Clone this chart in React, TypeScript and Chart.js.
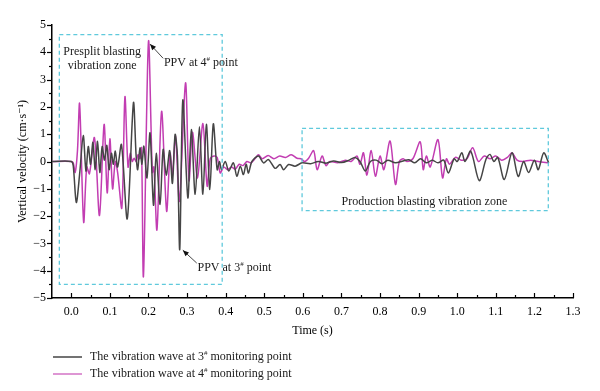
import React, { useEffect, useRef } from "react";
import { Chart, registerables } from "chart.js";

Chart.register(...registerables);

// ---- Data ----
const timeP3 = [
  -0.05, 0, 0.005, 0.013, 0.022, 0.031, 0.038, 0.044, 0.05, 0.056, 0.062, 0.068, 0.074, 0.08, 0.086, 0.092,
  0.098, 0.104, 0.109, 0.114, 0.12, 0.13, 0.145, 0.161, 0.168, 0.172, 0.178, 0.183, 0.188, 0.196, 0.204,
  0.213, 0.22, 0.23, 0.238, 0.246, 0.255, 0.262, 0.269, 0.275, 0.281, 0.289, 0.302, 0.311, 0.321, 0.332,
  0.341, 0.35, 0.359, 0.368, 0.378, 0.384, 0.389, 0.399, 0.408, 0.42, 0.429, 0.438, 0.446, 0.453, 0.459,
  0.468, 0.485, 0.498, 0.511, 0.528, 0.541, 0.55, 0.563, 0.58, 0.598, 0.62, 0.64, 0.66, 0.68, 0.7, 0.72,
  0.735, 0.748, 0.762, 0.775, 0.79, 0.805, 0.82, 0.84, 0.86, 0.875, 0.89, 0.905, 0.92, 0.935, 0.95, 0.965,
  0.977, 0.992, 1.0, 1.012, 1.02, 1.035, 1.057, 1.075, 1.085, 1.095, 1.105, 1.122, 1.142, 1.158, 1.172,
  1.185, 1.2, 1.21, 1.224, 1.237,
];
const velP3 = [
  0, 0, -0.15, -1.5, -0.4, 0.95, -0.35, 0.55, -0.1, 0.7, -0.3, 0.74, -0.4, 0.55, 0.05, 0.59,
  -0.3, 0.3, -0.1, 0.38, -0.2, 0.62, -2.1, 2.15, 0.2, -0.3, 0.5, -0.1, 0.56, -0.6, 1.05,
  -1.6, 0.3, -1.57, 0.44, -0.5, 0.4, -0.8, 0.99, 0.2, -3.22, 2.25, -1.33, 1.17, -1.2, 1.27,
  -1.2, 1.36, -1.03, 1.38, -0.3, 0.0, -0.29, 0.0, -0.35, -0.05, -0.54, -0.17, -0.48, -0.1, -0.42,
  0.0, 0.2, -0.05, 0.07, -0.25, -0.11, -0.3, -0.11, -0.17, -0.05, -0.08, 0.0, -0.06, 0.02, -0.04, 0.05,
  0.15, 0.0, -0.35, 0.0, 0.05, -0.08, 0.05, -0.05, 0.02, 0.06, -0.05, 0.1, -0.05, 0.05, -0.05, 0.05,
  -0.42, 0.1, 0.0, 0.32, 0.0, 0.38, -0.7, 0.1, 0.26, 0.0, 0.15, -0.66, 0.32, -0.55, 0.0,
  -0.4, 0.05, -0.3, 0.32, -0.05,
];

const timeP4 = [
  -0.05, 0, 0.005, 0.01, 0.016, 0.0215, 0.032, 0.04, 0.047, 0.06, 0.073, 0.085, 0.093, 0.1, 0.107, 0.114,
  0.12, 0.131, 0.139, 0.147, 0.153, 0.158, 0.163, 0.168, 0.173, 0.178, 0.182, 0.187, 0.2, 0.21, 0.214,
  0.222, 0.234, 0.247, 0.256, 0.262, 0.27, 0.28, 0.296, 0.305, 0.314, 0.327, 0.341, 0.352, 0.36, 0.37,
  0.378, 0.386, 0.395, 0.405, 0.415, 0.425, 0.435, 0.445, 0.455, 0.465, 0.477, 0.485, 0.495, 0.51, 0.525,
  0.54, 0.555, 0.57, 0.585, 0.595, 0.605, 0.615, 0.628, 0.637, 0.65, 0.66, 0.67, 0.69, 0.71, 0.725, 0.74,
  0.748, 0.757, 0.766, 0.777, 0.788, 0.8, 0.81, 0.826, 0.84, 0.85, 0.86, 0.87, 0.885, 0.904, 0.912, 0.92,
  0.93, 0.95, 0.962, 0.972, 0.98, 0.995, 1.01, 1.025, 1.04, 1.055, 1.07, 1.085, 1.1, 1.115, 1.13, 1.142,
  1.155, 1.17, 1.19, 1.21, 1.237,
];
const velP4 = [
  0, 0, -0.05, -0.4, 0.4, 2.12, -2.22, -0.2, -0.45, 0.87, -1.98, 1.36, -1.15, 0.83, -1.0, 0.0,
  -0.4, -1.7, 2.37, -0.2, 0.3, 0.0, 0.12, 0.0, 0.25, 0.1, 0.5, -4.2, 4.4, -0.4, -0.2,
  -2.5, 1.84, -1.82, 0.3, -0.5, 0.93, -1.45, 2.88, -0.7, 1.07, -0.6, 1.39, -0.9, 0.1, 0.2,
  0.15, -0.42, -0.2, -0.3, -0.2, -0.28, -0.1, -0.15, 0.0, -0.05, 0.12, 0.25, 0.1, 0.22, 0.1,
  0.2, 0.15, 0.25, 0.12, 0.1, 0.0, 0.12, 0.4, -0.3, 0.2, -0.15, 0.0, -0.05, 0.05, 0.0, 0.2,
  -0.1, 0.32, -0.5, 0.4, -0.54, 0.2, -0.3, 0.75, -0.84, 0.0, 0.1, 0.0, 0.1, 0.72, -0.3, 0.2,
  -0.2, 0.8, -0.6, 0.1, -0.1, 0.15, 0.05, 0.1, 0.5, 0.0, 0.2, 0.1, 0.2, 0.05, 0.15, 0.32,
  0.05, 0.0, 0.05, 0.0, -0.05,
];

const xTickValues = [0, 0.1, 0.2, 0.3, 0.4, 0.5, 0.6, 0.7, 0.8, 0.9, 1.0, 1.1, 1.2, 1.3];
const yTickValues = [-5, -4, -3, -2, -1, 0, 1, 2, 3, 4, 5];

const seriesLabels = ["The vibration wave at 3# monitoring point", "The vibration wave at 4# monitoring point"];
const xTitle = "Time (s)";
const yTitle = "Vertical velocity (cm\u00B7s\u207B\u00B9)";

const SERIF = "'Liberation Serif', 'Times New Roman', 'DejaVu Serif', serif";
const COLOR_P3 = "#454545";
const COLOR_P4 = "#c23db2";
const BOX_COLOR = "#5fc9dc";

// Draw a text where "#" is rendered as a small superscript
function drawRich(ctx: CanvasRenderingContext2D, text: string, x: number, y: number, size: number, align: "left" | "center" = "left") {
  const parts: { t: string; sup: boolean }[] = [];
  let buf = "";
  for (const ch of text) {
    if (ch === "#") {
      if (buf) parts.push({ t: buf, sup: false });
      buf = "";
      parts.push({ t: "#", sup: true });
    } else buf += ch;
  }
  if (buf) parts.push({ t: buf, sup: false });
  const supSize = Math.round(size * 0.6);
  let total = 0;
  for (const p of parts) {
    ctx.font = `${p.sup ? supSize : size}px ${SERIF}`;
    total += ctx.measureText(p.t).width;
  }
  let cx = align === "center" ? x - total / 2 : x;
  ctx.textAlign = "left";
  ctx.textBaseline = "middle";
  for (const p of parts) {
    ctx.font = `${p.sup ? supSize : size}px ${SERIF}`;
    ctx.fillText(p.t, cx, p.sup ? y - size * 0.32 : y);
    cx += ctx.measureText(p.t).width;
  }
}

function arrow(ctx: CanvasRenderingContext2D, x1: number, y1: number, x2: number, y2: number) {
  ctx.save();
  ctx.strokeStyle = "#333";
  ctx.fillStyle = "#111";
  ctx.lineWidth = 0.9;
  ctx.beginPath();
  ctx.moveTo(x1, y1);
  ctx.lineTo(x2, y2);
  ctx.stroke();
  const ang = Math.atan2(y2 - y1, x2 - x1);
  const L = 6, W = 2.6;
  ctx.beginPath();
  ctx.moveTo(x2, y2);
  ctx.lineTo(x2 - L * Math.cos(ang) + W * Math.sin(ang), y2 - L * Math.sin(ang) - W * Math.cos(ang));
  ctx.lineTo(x2 - L * Math.cos(ang) - W * Math.sin(ang), y2 - L * Math.sin(ang) + W * Math.cos(ang));
  ctx.closePath();
  ctx.fill();
  ctx.restore();
}

const decorPlugin = {
  id: "decor",
  afterDraw(chart: any) {
    const { ctx, chartArea } = chart;
    const xs = chart.scales.x;
    const ys = chart.scales.y;
    const X = (v: number) => xs.getPixelForValue(v);
    const Y = (v: number) => ys.getPixelForValue(v);
    ctx.save();

    // tick marks: x inward, y outward
    ctx.strokeStyle = "#000";
    ctx.lineWidth = 1.2;
    for (let i = 0; i <= 26; i++) {
      const v = i * 0.05;
      const px = Math.round(X(v)) + 0.5;
      const len = i % 2 === 0 ? 5 : 3;
      ctx.beginPath();
      ctx.moveTo(px, chartArea.bottom);
      ctx.lineTo(px, chartArea.bottom - len);
      ctx.stroke();
    }
    for (let i = -10; i <= 10; i++) {
      const v = i * 0.5;
      const py = Math.round(Y(v)) + 0.5;
      const len = i % 2 === 0 ? 5 : 3;
      ctx.beginPath();
      ctx.moveTo(chartArea.left, py);
      ctx.lineTo(chartArea.left - len, py);
      ctx.stroke();
    }

    // dashed zone boxes
    ctx.strokeStyle = BOX_COLOR;
    ctx.lineWidth = 1.3;
    ctx.setLineDash([4, 3]);
    const box = (x0: number, x1: number, y0: number, y1: number) => {
      ctx.strokeRect(X(x0), Y(y0), X(x1) - X(x0), Y(y1) - Y(y0));
    };
    box(-0.031, 0.391, 4.65, -4.5);
    box(0.598, 1.236, 1.21, -1.8);
    ctx.setLineDash([]);

    // annotations
    ctx.fillStyle = "#1a1a1a";
    ctx.textAlign = "center";
    ctx.textBaseline = "middle";
    ctx.font = `12px ${SERIF}`;
    ctx.fillText("Presplit blasting", X(0.08), Y(4.0));
    ctx.fillText("vibration zone", X(0.08), Y(3.5));
    ctx.fillText("Production blasting vibration zone", X(0.915), Y(-1.47));
    drawRich(ctx, "PPV at 4# point", X(0.24), Y(3.6), 12);
    drawRich(ctx, "PPV at 3# point", X(0.327), Y(-3.9), 12);
    arrow(ctx, X(0.238), Y(3.78), X(0.204), Y(4.3));
    arrow(ctx, X(0.325), Y(-3.72), X(0.289), Y(-3.25));

    // axis titles
    ctx.fillStyle = "#000";
    ctx.font = `12px ${SERIF}`;
    ctx.textAlign = "center";
    ctx.fillText(xTitle, (chartArea.left + chartArea.right) / 2, chartArea.bottom + 33);
    ctx.save();
    ctx.translate(23, (chartArea.top + chartArea.bottom) / 2);
    ctx.rotate(-Math.PI / 2);
    ctx.fillText(yTitle, 0, 0);
    ctx.restore();

    // legend
    const colors = [COLOR_P3, "#d373c6"];
    seriesLabels.forEach((lab, i) => {
      const ly = chartArea.bottom + 59 + i * 17;
      ctx.strokeStyle = colors[i];
      ctx.lineWidth = 1.5;
      ctx.beginPath();
      ctx.moveTo(53, ly);
      ctx.lineTo(82, ly);
      ctx.stroke();
      ctx.fillStyle = "#1a1a1a";
      drawRich(ctx, lab, 90, ly, 12);
    });
    ctx.restore();
  },
};

export default function App() {
  const ref = useRef<HTMLCanvasElement>(null);
  useEffect(() => {
    document.body.style.margin = "0";
    const toPts = (t: number[], v: number[]) => t.map((x, i) => ({ x, y: v[i] }));
    const chart = new Chart(ref.current as HTMLCanvasElement, {
      type: "line",
      data: {
        datasets: [
          {
            label: seriesLabels[0],
            data: toPts(timeP3, velP3),
            borderColor: COLOR_P3,
            borderWidth: 1.5,
            pointRadius: 0,
            tension: 0.3,
            fill: false,
          },
          {
            label: seriesLabels[1],
            data: toPts(timeP4, velP4),
            borderColor: COLOR_P4,
            borderWidth: 1.5,
            pointRadius: 0,
            tension: 0.3,
            fill: false,
          },
        ],
      },
      options: {
        responsive: false,
        animation: false,
        devicePixelRatio: 1,
        layout: { padding: { left: 0, top: 25, right: 27, bottom: 0 } },
        plugins: { legend: { display: false }, tooltip: { enabled: false } },
        scales: {
          x: {
            type: "linear",
            min: -0.05,
            max: 1.3,
            grid: { display: false, drawTicks: false },
            border: { display: true, color: "#000", width: 1.5 },
            afterBuildTicks: (s: any) => {
              s.ticks = xTickValues.map((v) => ({ value: v }));
            },
            afterFit: (s: any) => {
              s.height = 93;
            },
            ticks: {
              padding: 7,
              autoSkip: false,
              maxRotation: 0,
              color: "#000",
              font: { family: SERIF, size: 12 },
              callback: (v: any) => Number(v).toFixed(1),
            },
          },
          y: {
            type: "linear",
            min: -5,
            max: 5,
            grid: { display: false, drawTicks: false },
            border: { display: true, color: "#000", width: 1.5 },
            afterBuildTicks: (s: any) => {
              s.ticks = yTickValues.map((v) => ({ value: v }));
            },
            afterFit: (s: any) => {
              s.width = 52;
            },
            ticks: {
              padding: 6,
              color: "#000",
              font: { family: SERIF, size: 12 },
              callback: (v: any) => String(v).replace("-", "\u2212"),
            },
          },
        },
      },
      plugins: [decorPlugin],
    });
    return () => chart.destroy();
  }, []);
  return <canvas ref={ref} width={600} height={391} style={{ display: "block" }} />;
}
